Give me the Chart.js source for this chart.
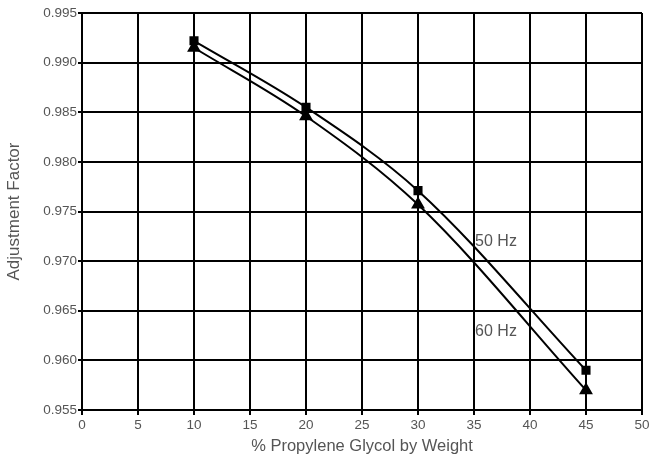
<!DOCTYPE html>
<html>
<head>
<meta charset="utf-8">
<script src="https://cdn.jsdelivr.net/npm/chart.js@4"></script>
<style>
  html, body { margin: 0; padding: 0; background: #fff; }
  #wrap { width: 665px; height: 456px; }
</style>
</head>
<body>
<div id="wrap"><canvas id="myChart" width="665" height="456"></canvas></div>
<script>
// glycol percentage by weight
const glycol = [10, 20, 30, 45];
const hz50 = [0.9922, 0.9855, 0.9771, 0.9590];
const hz60 = [0.9915, 0.9846, 0.9757, 0.9570];
const xTicks = [0, 5, 10, 15, 20, 25, 30, 35, 40, 45, 50];
const yTicks = [0.955, 0.960, 0.965, 0.970, 0.975, 0.980, 0.985, 0.990, 0.995];

// text labels sitting next to the curves
const curveLabels = [
  { text: "50 Hz", x: 35.1, y: 0.9720 },
  { text: "60 Hz", x: 35.1, y: 0.9629 }
];

const FONT = "'Liberation Sans', Arial, sans-serif";

const labelPlugin = {
  id: "curveLabels",
  afterDatasetsDraw(chart) {
    const ctx = chart.ctx;
    const xs = chart.scales.x, ys = chart.scales.y;
    ctx.save();
    ctx.font = "16px " + FONT;
    ctx.fillStyle = "#555";
    ctx.textBaseline = "middle";
    ctx.textAlign = "left";
    for (const l of curveLabels) {
      ctx.fillText(l.text, xs.getPixelForValue(l.x), ys.getPixelForValue(l.y));
    }
    ctx.restore();
  }
};

const toPoints = (xs, ys) => xs.map((x, i) => ({ x: x, y: ys[i] }));

const myChart = new Chart("myChart", {
  type: "line",
  data: {
    datasets: [
      {
        label: "50 Hz",
        data: toPoints(glycol, hz50),
        borderColor: "#000",
        backgroundColor: "#000",
        borderWidth: 2,
        pointStyle: "rect",
        pointRadius: 5,
        cubicInterpolationMode: "monotone",
      },
      {
        label: "60 Hz",
        data: toPoints(glycol, hz60),
        borderColor: "#000",
        backgroundColor: "#000",
        borderWidth: 2,
        pointStyle: "triangle",
        pointRadius: 6,
        cubicInterpolationMode: "monotone",
      },
    ],
  },
  plugins: [labelPlugin],
  options: {
    responsive: false,
    animation: false,
    layout: { padding: { left: 0, top: 13, right: 23, bottom: 0 } },
    plugins: {
      legend: { display: false },
      tooltip: { enabled: false },
    },
    scales: {
      x: {
        type: "linear",
        min: 0,
        max: 50,
        afterBuildTicks: (s) => { s.ticks = xTicks.map(v => ({ value: v })); },
        afterFit: (s) => { s.height = 46; },
        grid: { color: "#000", lineWidth: 2, tickLength: 5, drawTicks: true },
        border: { color: "#000", width: 2 },
        ticks: {
          color: "#555",
          padding: 2,
          maxRotation: 0,
          font: { family: FONT, size: 13.5 },
        },
        title: {
          display: true,
          text: "% Propylene Glycol by Weight",
          color: "#555",
          padding: { top: 2, bottom: 0 },
          font: { family: FONT, size: 16.5 },
        },
      },
      y: {
        type: "linear",
        min: 0.955,
        max: 0.995,
        afterBuildTicks: (s) => { s.ticks = yTicks.map(v => ({ value: v })); },
        afterFit: (s) => { s.width = 82; },
        grid: { color: "#000", lineWidth: 2, tickLength: 4, drawTicks: true },
        border: { color: "#000", width: 2 },
        ticks: {
          color: "#555",
          padding: 1,
          callback: (v) => v.toFixed(3),
          font: { family: FONT, size: 13.5 },
        },
        title: {
          display: true,
          text: "Adjustment Factor",
          color: "#555",
          padding: { top: 4, bottom: 0 },
          font: { family: FONT, size: 17 },
        },
      },
    },
  },
});
</script>
</body>
</html>
